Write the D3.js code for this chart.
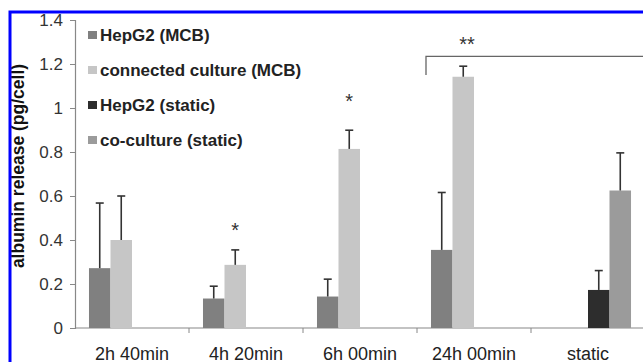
<!DOCTYPE html>
<html>
<head>
    <script src="https://d3js.org/d3.v7.min.js"></script>
    <style>
        body { margin: 0; background: white; }
        svg { display: block; font-family: Arial, "Liberation Sans", sans-serif; }
    </style>
</head>
<body>
<div id="chart"></div>
<script>
    // categories and series
    var categories = ["2h 40min", "4h 20min", "6h 00min", "24h 00min", "static"];
    var seriesNames = ["HepG2 (MCB)", "connected culture (MCB)", "HepG2 (static)", "co-culture (static)"];
    var seriesColors = ["#808080", "#c6c6c6", "#2d2d2d", "#9b9b9b"];

    // means (pg/cell), null where the bar is absent
    var hepg2Mcb      = [0.272, 0.134, 0.143, 0.355, null];
    var connectedMcb  = [0.400, 0.287, 0.814, 1.142, null];
    var hepg2Static   = [null, null, null, null, 0.173];
    var coStatic      = [null, null, null, null, 0.625];

    // upper error (SD)
    var hepg2McbErr     = [0.296, 0.056, 0.079, 0.261, null];
    var connectedMcbErr = [0.200, 0.068, 0.085, 0.048, null];
    var hepg2StaticErr  = [null, null, null, null, 0.088];
    var coStaticErr     = [null, null, null, null, 0.171];

    var yTicks = [0, 0.2, 0.4, 0.6, 0.8, 1, 1.2, 1.4];

    // significance marks
    var stars = [
        {cat: "4h 20min", serie: 1, label: "*", value: 0.455},
        {cat: "6h 00min", serie: 1, label: "*", value: 1.04}
    ];

    var W = 643, H = 362;
    var svg = d3.select("#chart").append("svg")
        .attr("width", W).attr("height", H);

    var rows = [];
    var means = [hepg2Mcb, connectedMcb, hepg2Static, coStatic];
    var errs = [hepg2McbErr, connectedMcbErr, hepg2StaticErr, coStaticErr];
    categories.forEach(function(c, i) {
        means.forEach(function(m, s) {
            if (m[i] != null) rows.push({cat: c, serie: s, value: m[i], err: errs[s][i]});
        });
    });

    var y = d3.scaleLinear().domain([0, 1.4]).range([328, 20]);
    var x = d3.scaleBand().domain(categories).range([75, 645]).paddingInner(0);
    var x1 = d3.scaleBand().domain(d3.range(seriesNames.length))
        .range([0, x.bandwidth()]).paddingInner(0).paddingOuter(0.65);

    // y axis
    var yAxis = svg.append("g")
        .attr("transform", "translate(75,0)")
        .call(d3.axisLeft(y).tickValues(yTicks).tickSize(5).tickPadding(7)
            .tickFormat(function(d) { return d3.format("~g")(d); }));
    yAxis.selectAll("text").style("font-size", "17px").attr("fill", "#333");
    yAxis.select(".domain").attr("stroke", "#888").attr("stroke-width", 1.2);
    yAxis.selectAll(".tick line").attr("stroke", "#888");

    // x axis
    var xAxis = svg.append("g").attr("transform", "translate(0," + y(0) + ")");
    xAxis.append("line")
        .attr("x1", x.range()[0]).attr("x2", x.range()[1])
        .attr("stroke", "#888").attr("stroke-width", 1.2);
    xAxis.selectAll(".sep")
        .data(categories.slice(1))
        .enter().append("line")
        .attr("x1", function(d) { return x(d); })
        .attr("x2", function(d) { return x(d); })
        .attr("y1", 0).attr("y2", 5)
        .attr("stroke", "#888");
    xAxis.selectAll(".lab")
        .data(categories)
        .enter().append("text")
        .attr("x", function(d) { return x(d) + x.bandwidth() / 2; })
        .attr("y", 32)
        .attr("text-anchor", "middle")
        .attr("fill", "#222")
        .style("font-size", "18px")
        .text(function(d) { return d; });

    // bars
    svg.selectAll(".bar")
        .data(rows)
        .enter().append("rect")
        .attr("x", function(d) { return x(d.cat) + x1(d.serie); })
        .attr("width", x1.bandwidth())
        .attr("y", function(d) { return y(d.value); })
        .attr("height", function(d) { return y(0) - y(d.value); })
        .attr("fill", function(d) { return seriesColors[d.serie]; });

    // error bars
    var eb = svg.selectAll(".err").data(rows).enter().append("g")
        .attr("stroke", "#333").attr("stroke-width", 1.6);
    eb.append("line")
        .attr("x1", function(d) { return x(d.cat) + x1(d.serie) + x1.bandwidth() / 2; })
        .attr("x2", function(d) { return x(d.cat) + x1(d.serie) + x1.bandwidth() / 2; })
        .attr("y1", function(d) { return y(d.value); })
        .attr("y2", function(d) { return y(d.value + d.err); });
    eb.append("line")
        .attr("x1", function(d) { return x(d.cat) + x1(d.serie) + x1.bandwidth() / 2 - 4; })
        .attr("x2", function(d) { return x(d.cat) + x1(d.serie) + x1.bandwidth() / 2 + 4; })
        .attr("y1", function(d) { return y(d.value + d.err); })
        .attr("y2", function(d) { return y(d.value + d.err); });

    // stars
    svg.selectAll(".star")
        .data(stars)
        .enter().append("text")
        .attr("x", function(d) { return x(d.cat) + x1(d.serie) + x1.bandwidth() / 2; })
        .attr("y", function(d) { return y(d.value) + 9; })
        .attr("text-anchor", "middle")
        .attr("fill", "#333")
        .style("font-size", "20px")
        .text(function(d) { return d.label; });

    // bracket over 24h / static
    var bx0 = x("24h 00min") + 9;
    svg.append("path")
        .attr("d", "M" + bx0 + "," + y(1.15) + "V" + y(1.235) + "H" + (W + 5))
        .attr("fill", "none").attr("stroke", "#666").attr("stroke-width", 1.3);
    svg.append("text")
        .attr("x", x("24h 00min") + 50)
        .attr("y", y(1.30) + 9)
        .attr("text-anchor", "middle")
        .attr("fill", "#333")
        .style("font-size", "20px")
        .text("**");

    // legend
    var lg = svg.selectAll(".leg").data(seriesNames).enter().append("g")
        .attr("transform", function(d, i) { return "translate(88," + (35 + i * 35) + ")"; });
    lg.append("rect")
        .attr("x", 0).attr("y", -4).attr("width", 9).attr("height", 8)
        .attr("fill", function(d, i) { return seriesColors[i]; });
    lg.append("text")
        .attr("x", 12).attr("y", 6)
        .attr("fill", "#222")
        .style("font-size", "17px").style("font-weight", "bold")
        .text(function(d) { return d; });

    // y label
    svg.append("text")
        .attr("transform", "translate(24,166) rotate(-90)")
        .attr("text-anchor", "middle")
        .attr("fill", "#111")
        .style("font-size", "17.5px").style("font-weight", "bold")
        .text("albumin release (pg/cell)");

    // blue frame
    svg.append("rect")
        .attr("x", 10).attr("y", 12)
        .attr("width", W + 20).attr("height", H + 20)
        .attr("fill", "none").attr("stroke", "#0000ff").attr("stroke-width", 3);
</script>
</body>
</html>
